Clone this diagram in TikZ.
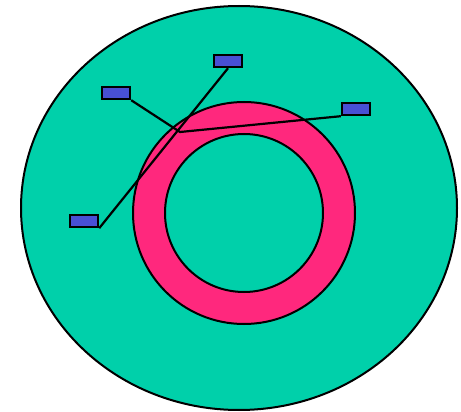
\documentclass[tikz,border=0pt]{standalone}
\definecolor{teal1}{RGB}{0,208,170}
\definecolor{pink1}{RGB}{255,40,125}
\definecolor{blue1}{RGB}{72,80,212}
\tikzset{
  outline/.style={draw=black, line width=2pt},
  tag/.style={draw=black, line width=2.4pt, fill=blue1, minimum width=28pt, minimum height=12pt, inner sep=0pt, rectangle},
  wire/.style={draw=black, line width=2.2pt}
}
\begin{document}
\begin{tikzpicture}[x=1pt,y=-1pt]
\useasboundingbox (0,0) rectangle (461,412);
\draw[outline, fill=teal1] (239,208) ellipse [x radius=218, y radius=202];
\draw[outline, fill=pink1] (244,213) circle [radius=111];
\draw[outline, fill=teal1] (244,213) circle [radius=79];
\node[tag] (a) at (116,93) {};
\node[tag] (b) at (228,61) {};
\node[tag] (c) at (356,109) {};
\node[tag] (d) at (84,221) {};
\coordinate (j) at (180,132);
\draw[wire] (a.south east) -- (j) -- (c.south west);
\draw[wire] (b.south) -- (d.south east);
\end{tikzpicture}
\end{document}
